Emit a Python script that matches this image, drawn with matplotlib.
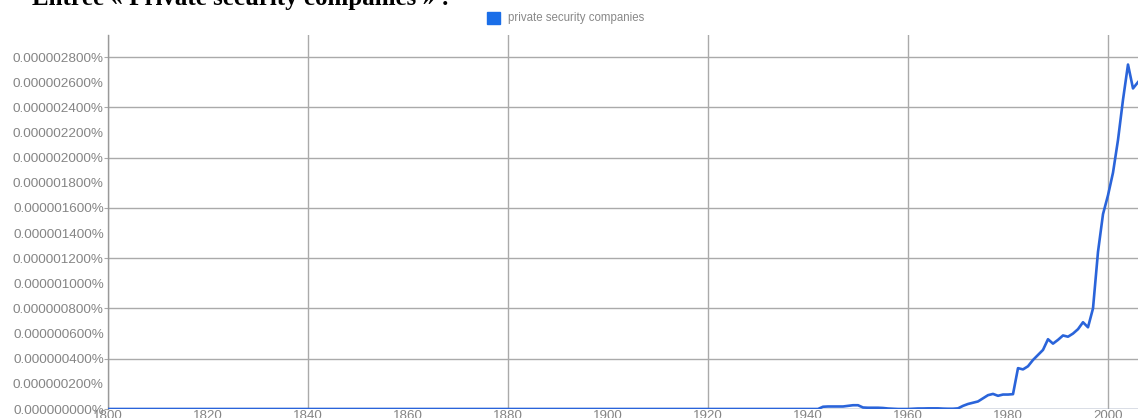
import matplotlib
matplotlib.use("Agg")
import matplotlib.pyplot as plt
from matplotlib.ticker import MultipleLocator, FuncFormatter
import numpy as np

# ---- data (values in units of 1e-6 percent) ----
title_text = "Entrée « Private security companies » :"
series_name = "private security companies"

years = list(range(1800, 2007))
late_years = list(range(1943, 2007))
late_values = [
    0.018, 0.020, 0.020, 0.020, 0.020, 0.025, 0.030, 0.030,   # 1943-1950
    0.012, 0.010, 0.010, 0.010, 0.008, 0.004, 0.002, 0.000,   # 1951-1958
    0.000, 0.000, 0.002, 0.004, 0.004, 0.005, 0.005, 0.005,   # 1959-1966
    0.003, 0.002, 0.002, 0.005, 0.025, 0.040, 0.050, 0.060,   # 1967-1974
    0.085, 0.110, 0.120, 0.105, 0.115, 0.115, 0.118, 0.325,   # 1975-1982
    0.315, 0.340, 0.390, 0.430, 0.470, 0.555, 0.520, 0.550,   # 1983-1990
    0.585, 0.575, 0.600, 0.635, 0.690, 0.650, 0.800, 1.250,   # 1991-1998
    1.550, 1.700, 1.880, 2.140, 2.460, 2.740, 2.550, 2.600,   # 1999-2006
]
values = [0.0] * (1943 - 1800) + late_values
values_pct = np.array(values) * 1e-6

y_label_step = 0.0000002   # percent
y_grid_step = 0.0000004
x_label_step = 20
x_grid_step = 40

# ---- figure ----
fig = plt.figure(figsize=(11.38, 4.18), dpi=100)
ax = fig.add_axes([108 / 1138, 9 / 418, 1 - 108 / 1138, (409 - 35) / 418])

line_color = "#2a64da"
ax.plot(years, values_pct, color=line_color, lw=1.9, solid_joinstyle="round", zorder=3)

ax.set_xlim(1800, 2006)
ax.set_ylim(0, 0.0000028 + 22 / 125.7 * 1e-6)

ax.yaxis.set_major_locator(MultipleLocator(y_grid_step))
ax.yaxis.set_minor_locator(MultipleLocator(y_label_step))
fmt = FuncFormatter(lambda v, p: "%.9f%%" % v)
ax.yaxis.set_major_formatter(fmt)
ax.yaxis.set_minor_formatter(fmt)

ax.xaxis.set_major_locator(MultipleLocator(x_grid_step))
ax.xaxis.set_minor_locator(MultipleLocator(x_label_step))
ax.xaxis.set_major_formatter(FuncFormatter(lambda v, p: "%d" % v))
ax.xaxis.set_minor_formatter(FuncFormatter(lambda v, p: "%d" % v))

grid_color = "#aaaaaa"
ax.grid(True, which="major", color=grid_color, lw=1.0, zorder=0)
ax.grid(False, which="minor")

for s in ["top", "right", "bottom"]:
    ax.spines[s].set_visible(False)
ax.spines["left"].set_color("#999999")
ax.spines["left"].set_linewidth(1.0)
ax.axhline(0, color="#8aa0c8", lw=1.0, zorder=2)

label_color = "#858585"
ax.tick_params(axis="y", which="major", length=3, color=grid_color, pad=0,
               labelsize=9.7, labelcolor=label_color)
ax.tick_params(axis="y", which="minor", length=0, pad=3,
               labelsize=9.7, labelcolor=label_color)
ax.tick_params(axis="x", which="both", length=0, pad=1,
               labelsize=9.6, labelcolor=label_color)
for lab in ax.get_yticklabels(which="both") + ax.get_xticklabels(which="both"):
    lab.set_fontfamily(["Liberation Sans", "DejaVu Sans"])

# legend
fig.patches.append(plt.Rectangle((487 / 1138, 1 - 24 / 418), 13 / 1138, 12 / 418,
                                 transform=fig.transFigure, color="#1a6ee8"))
fig.text(508 / 1138, 1 - 18 / 418, series_name, fontsize=8.3, color="#888888",
         va="center", ha="left", family=["Liberation Sans", "DejaVu Sans"])

# title (cut off at top)
fig.text(32 / 1138, 1 - 5 / 418, title_text, fontsize=18, fontweight="bold",
         va="baseline", ha="left", family=["Liberation Serif", "DejaVu Serif"])

fig.savefig("out.png", dpi=100)
